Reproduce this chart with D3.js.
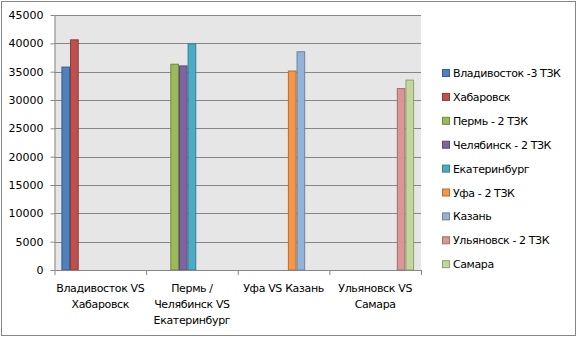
<!DOCTYPE html>
<html><head><meta charset="utf-8">
<script src="https://cdn.jsdelivr.net/npm/d3@7"></script>
<style>body{margin:0;background:#fff}svg{display:block}</style>
</head><body>
<script>
const categories = [["Владивосток VS","Хабаровск"],["Пермь /","Челябинск VS","Екатеринбург"],["Уфа VS Казань"],["Ульяновск VS","Самара"]];
const seriesNames = ["Владивосток -3 ТЗК","Хабаровск","Пермь - 2 ТЗК","Челябинск - 2 ТЗК","Екатеринбург","Уфа - 2 ТЗК","Казань","Ульяновск - 2 ТЗК","Самара"];
const seriesGroup = [0,0,1,1,1,2,2,3,3];
const seriesValues = [35900,40700,36400,36100,40000,35200,38600,32100,33600];
const yTicks = [0,5000,10000,15000,20000,25000,30000,35000,40000,45000];
const colors = ["#4F81BD","#C0504D","#9BBB59","#8064A2","#4BACC6","#F79646","#95B3D7","#D99694","#C3D69B"];
const strokes = ["#385D8A","#8C3836","#71893F","#5C4776","#357D91","#B66D31","#6D83A0","#A06E6D","#8FA072"];

const W=577,H=337;
const svg=d3.select("body").append("svg").attr("width",W).attr("height",H);
svg.append("rect").attr("x",1.5).attr("y",1.5).attr("width",W-3).attr("height",H-3).attr("fill","#fff").attr("stroke","#868686");

const L=54.5,R=421,T=15,B=270;
const x0=d3.scaleBand().domain(d3.range(categories.length)).range([L,R]).padding(0);
const x1=d3.scaleBand().domain(d3.range(seriesNames.length)).range([0,x0.bandwidth()]).paddingInner(0).paddingOuter(0.8);
const y=d3.scaleLinear().domain([0,45000]).range([B,T]);

svg.append("rect").attr("x",L).attr("y",T).attr("width",R-L).attr("height",B-T).attr("fill","#E6E6E6");
const font="'DejaVu Sans', Verdana, sans-serif";
// grid
svg.append("g").selectAll("line").data(yTicks.slice(1)).join("line")
 .attr("x1",L).attr("x2",R).attr("y1",d=>Math.round(y(d))+0.5).attr("y2",d=>Math.round(y(d))+0.5)
 .attr("stroke","#868686").attr("stroke-width",1);
// bars
svg.append("g").selectAll("rect").data(seriesValues).join("rect")
 .attr("x",(d,i)=>x0(seriesGroup[i])+x1(i)+0.5)
 .attr("y",d=>y(d)+0.5)
 .attr("width",x1.bandwidth()-1)
 .attr("height",d=>B-y(d)-0.5)
 .attr("fill",(d,i)=>colors[i]).attr("stroke",(d,i)=>strokes[i]).attr("stroke-width",1);
// y axis
const ya=svg.append("g").attr("transform",`translate(${L},0)`).call(d3.axisLeft(y).tickValues(yTicks).tickSize(4).tickSizeOuter(0).tickFormat(d3.format("d")).tickPadding(7));
ya.select(".domain").attr("stroke","#868686");
ya.selectAll(".tick line").attr("stroke","#868686");
ya.selectAll("text").attr("font-family",font).attr("font-size",11).attr("fill","#000");
// x axis
const xa=svg.append("g").attr("transform",`translate(0,${B})`)
 .call(d3.axisBottom(d3.scaleLinear().domain([0,4]).range([L,R])).tickValues([0,1,2,3,4]).tickSize(5).tickSizeOuter(0).tickFormat(""));
xa.select(".domain").attr("stroke","#868686");
xa.selectAll(".tick line").attr("stroke","#868686");
// category labels
categories.forEach((lines,i)=>{
 const t=svg.append("text").attr("font-family",font).attr("font-size",11).attr("letter-spacing",-0.35).attr("text-anchor","middle").attr("fill","#000");
 lines.forEach((s,j)=>t.append("tspan").attr("x",x0(i)+x0.bandwidth()/2).attr("y",292+j*16).text(s));
});
// legend
const lg=svg.append("g");
seriesNames.forEach((s,i)=>{
 const yy=73+i*23.9;
 lg.append("rect").attr("x",442.5).attr("y",yy-3.5).attr("width",7).attr("height",7).attr("fill",colors[i]).attr("stroke",strokes[i]);
 lg.append("text").attr("x",453).attr("y",yy+4).attr("font-family",font).attr("font-size",11).attr("letter-spacing",-0.4).attr("fill","#000").text(s);
});
</script>
</body></html>
